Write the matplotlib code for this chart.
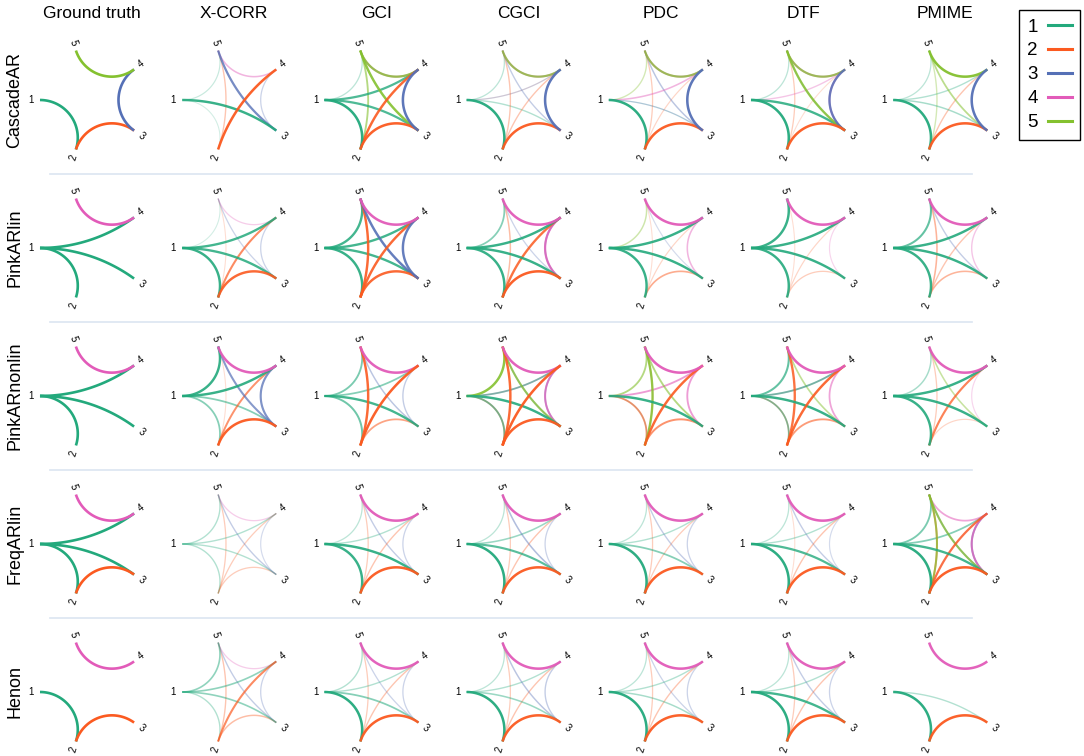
import numpy as np
import matplotlib.pyplot as plt
from matplotlib.lines import Line2D

plt.rcParams['font.family'] = ['Liberation Sans', 'DejaVu Sans']

METHODS = ['Ground truth', 'X-CORR', 'GCI', 'CGCI', 'PDC', 'DTF', 'PMIME']
DATASETS = ['CascadeAR', 'PinkARlin', 'PinkARnonlin', 'FreqARlin', 'Henon']
NODES = ['1', '2', '3', '4', '5']
NODE_COLORS = ['#23a97c', '#fb5a20', '#5570b6', '#e25bb9', '#84c12f']

# directed edges per panel: (source, target, strength)
CASCADE_AR = {
    'Ground truth': [(1, 2, 1.0), (2, 3, 1.0), (3, 4, 1.0), (5, 4, 1.0)],
    'X-CORR': [(1, 5, .25), (1, 2, .2), (1, 3, .9), (2, 5, .35), (4, 5, .45),
               (3, 5, .8), (2, 4, .95), (3, 4, .3)],
    'GCI': [(1, 5, .3), (1, 2, .95), (1, 4, .8), (1, 3, .8), (4, 5, .6), (5, 4, .8),
            (5, 3, .9), (5, 2, .6), (2, 3, .95), (2, 4, .9), (3, 4, .95)],
    'CGCI': [(1, 5, .3), (1, 2, .95), (1, 4, .25), (4, 1, .25), (1, 3, .35),
             (4, 5, .6), (5, 4, .75), (2, 5, .35), (3, 5, .35), (2, 3, .95),
             (2, 4, .35), (3, 4, .95)],
    'PDC': [(5, 1, .35), (1, 2, .95), (4, 1, .45), (3, 1, .3), (1, 3, .2), (4, 5, .6),
            (5, 4, .75), (2, 5, .3), (3, 5, .4), (2, 3, .95), (2, 4, .25), (3, 4, .95)],
    'DTF': [(1, 5, .3), (4, 1, .35), (1, 2, .95), (1, 3, .85), (4, 5, .6), (5, 4, .75),
            (3, 5, .3), (5, 3, .85), (2, 5, .3), (2, 4, .2), (2, 3, .95), (4, 3, .6),
            (3, 4, .85)],
    'PMIME': [(1, 5, .3), (1, 4, .35), (1, 2, .95), (1, 3, .4), (4, 5, .2), (5, 4, .95),
              (5, 2, .35), (5, 3, .55), (2, 4, .35), (2, 3, .95), (3, 4, .95)],
}

PINK_AR_LIN = {
    'Ground truth': [(1, 2, 1.0), (1, 3, 1.0), (1, 4, 1.0), (4, 5, 1.0)],
    'X-CORR': [(1, 5, .2), (1, 4, .85), (1, 2, .9), (1, 3, .85), (4, 5, .3),
               (2, 5, .2), (3, 5, .3), (2, 4, .7), (2, 3, .9), (3, 4, .3)],
    'GCI': [(1, 5, .85), (1, 4, .85), (1, 2, .9), (1, 3, .85), (4, 5, .95),
            (2, 5, .9), (3, 5, .9), (2, 4, .9), (2, 3, .9), (3, 4, .9)],
    'CGCI': [(1, 5, .55), (1, 4, .9), (1, 2, .9), (1, 3, .9), (4, 5, .95), (2, 5, .4),
             (3, 5, .3), (2, 4, .85), (2, 3, .95), (3, 4, .5), (4, 3, .8)],
    'PDC': [(5, 1, .4), (1, 4, .9), (1, 2, .9), (1, 3, .9), (4, 5, .95), (2, 5, .2),
            (3, 5, .25), (2, 4, .25), (2, 3, .5), (4, 3, .45)],
    'DTF': [(1, 5, .9), (1, 4, .9), (1, 2, .9), (1, 3, .9), (4, 5, .95), (2, 5, .2),
            (2, 4, .25), (2, 3, .3), (4, 3, .25)],
    'PMIME': [(1, 5, .7), (1, 4, .9), (1, 2, .9), (1, 3, .9), (4, 5, .95), (2, 5, .45),
              (3, 5, .35), (2, 4, .35), (2, 3, .45), (4, 3, .35)],
}

PINK_AR_NONLIN = {
    'Ground truth': [(1, 2, 1.0), (1, 3, 1.0), (1, 4, 1.0), (4, 5, 1.0)],
    'X-CORR': [(1, 5, .9), (1, 4, .9), (1, 2, .55), (1, 3, .55), (4, 5, .95),
               (2, 5, .2), (3, 5, .7), (2, 4, .65), (2, 3, .95), (3, 4, .75)],
    'GCI': [(1, 5, .6), (1, 4, .55), (1, 2, .65), (1, 3, .85), (4, 5, .95),
            (2, 5, .9), (3, 5, .4), (2, 4, .95), (2, 3, .55), (3, 4, .35)],
    'CGCI': [(5, 1, .9), (4, 1, .45), (1, 4, .55), (2, 1, .5), (1, 2, .6), (1, 3, .9),
             (4, 5, .95), (2, 5, .9), (3, 5, .4), (5, 3, .75), (2, 4, .95),
             (2, 3, .95), (3, 4, .5), (4, 3, .7)],
    'PDC': [(5, 1, .6), (4, 1, .6), (1, 2, .3), (2, 1, .6), (1, 3, .9), (4, 5, .95),
            (2, 5, .35), (5, 2, .85), (5, 3, .6), (2, 4, .9), (2, 3, .65), (4, 3, .6)],
    'DTF': [(1, 5, .7), (4, 1, .4), (1, 4, .6), (2, 1, .45), (1, 2, .55), (1, 3, .9),
            (4, 5, .95), (2, 5, .85), (5, 3, .5), (2, 4, .9), (2, 3, .6), (4, 3, .55)],
    'PMIME': [(1, 5, .4), (1, 4, .9), (1, 2, .9), (1, 3, .9), (4, 5, .95), (2, 5, .3),
              (5, 3, .45), (2, 4, .75), (2, 3, .25), (4, 3, .25)],
}

FREQ_AR_LIN = {
    'Ground truth': [(1, 4, 1.0), (1, 3, 1.0), (1, 2, 1.0), (2, 3, 1.0), (4, 5, 1.0)],
    'X-CORR': [(1, 5, .35), (1, 4, .35), (1, 2, .35), (1, 3, .35), (4, 5, .3),
               (2, 5, .3), (3, 5, .35), (2, 4, .3), (2, 3, .3), (3, 4, .25)],
    'GCI': [(1, 5, .3), (1, 4, .35), (1, 2, .9), (1, 3, .9), (4, 5, .95), (2, 5, .3),
            (3, 5, .35), (2, 4, .35), (2, 3, .95), (3, 4, .3)],
    'CGCI': [(1, 5, .3), (1, 4, .45), (1, 2, .95), (1, 3, .75), (4, 5, .95), (2, 5, .3),
             (3, 5, .45), (2, 4, .35), (2, 3, .95), (3, 4, .3)],
    'PDC': [(1, 5, .3), (1, 4, .35), (1, 2, .95), (1, 3, .55), (4, 5, .95), (2, 5, .3),
            (3, 5, .35), (2, 4, .3), (2, 3, .95), (3, 4, .3)],
    'DTF': [(1, 5, .3), (1, 4, .35), (1, 2, .95), (1, 3, .8), (4, 5, .95), (2, 5, .2),
            (3, 5, .35), (2, 4, .35), (2, 3, .95), (3, 4, .25)],
    'PMIME': [(1, 5, .6), (1, 4, .55), (1, 2, .95), (1, 3, .85), (4, 5, .55),
              (2, 5, .6), (5, 2, .7), (3, 5, .45), (5, 3, .75), (4, 2, .35),
              (2, 4, .8), (2, 3, .95), (3, 4, .6), (4, 3, .7)],
}

HENON = {
    'Ground truth': [(1, 2, 1.0), (2, 3, 1.0), (4, 5, 1.0)],
    'X-CORR': [(1, 5, .5), (1, 4, .5), (1, 2, .35), (1, 3, .5), (4, 5, .3), (2, 5, .35),
               (3, 5, .35), (2, 4, .7), (2, 3, .4), (3, 4, .3)],
    'GCI': [(1, 5, .35), (1, 4, .35), (1, 2, .95), (1, 3, .55), (4, 5, .95), (2, 5, .3),
            (3, 5, .3), (2, 4, .35), (2, 3, .95), (3, 4, .3)],
    'CGCI': [(1, 5, .3), (1, 4, .35), (1, 2, .95), (1, 3, .45), (4, 5, .95), (2, 5, .3),
             (3, 5, .4), (2, 4, .35), (2, 3, .95), (3, 4, .35)],
    'PDC': [(1, 5, .3), (1, 4, .35), (1, 2, .95), (1, 3, .4), (4, 5, .95), (2, 5, .3),
            (3, 5, .3), (2, 4, .35), (2, 3, .95), (3, 4, .3)],
    'DTF': [(1, 5, .3), (1, 4, .35), (1, 2, .95), (1, 3, .85), (4, 5, .95), (2, 5, .3),
            (3, 5, .35), (2, 4, .35), (2, 3, .95), (3, 4, .3)],
    'PMIME': [(1, 2, .95), (1, 3, .35), (2, 3, .95), (4, 5, .95)],
}

PANELS = [CASCADE_AR, PINK_AR_LIN, PINK_AR_NONLIN, FREQ_AR_LIN, HENON]

W, H = 1084, 756
COL_X0, COL_DX = 92, 142.2
ROW_Y0, ROW_DY = 100, 148
PANEL_PX = 140
LIM = 1.346

angles = np.deg2rad(180 + 72 * np.arange(len(NODES)))
node_xy = np.column_stack([np.cos(angles), np.sin(angles)])
t = np.linspace(0, 1, 90)


def arc_points(a0, a1):
    # circle arc orthogonal to the unit circle, joining the two nodes
    d = (a1 - a0 + np.pi) % (2 * np.pi) - np.pi
    mid = a0 + d / 2
    half = abs(d) / 2
    centre = np.array([np.cos(mid), np.sin(mid)]) / np.cos(half)
    p0 = np.array([np.cos(a0), np.sin(a0)])
    p1 = np.array([np.cos(a1), np.sin(a1)])
    th0 = np.arctan2(*(p0 - centre)[::-1])
    th1 = np.arctan2(*(p1 - centre)[::-1])
    dth = (th1 - th0 + np.pi) % (2 * np.pi) - np.pi
    th = th0 + dth * t
    r = np.tan(half)
    return centre[0] + r * np.cos(th), centre[1] + r * np.sin(th)


def label_rotation(ang):
    ang = ang % 360
    if 90 < ang < 270:
        return ang - 180
    return ang


def draw_panel(ax, edges):
    for src, dst, w in sorted(edges, key=lambda e: e[2]):
        xs, ys = arc_points(angles[src - 1], angles[dst - 1])
        ax.plot(xs, ys, color=NODE_COLORS[src - 1], alpha=w,
                lw=0.5 + 1.4 * w, solid_capstyle='butt')
    for k, name in enumerate(NODES):
        ang = np.rad2deg(angles[k])
        ax.text(1.17 * node_xy[k, 0], 1.17 * node_xy[k, 1], name, fontsize=7,
                rotation=label_rotation(ang), ha='center', va='center', clip_on=False)
    ax.set_xlim(-LIM, LIM)
    ax.set_ylim(-LIM, LIM)
    ax.set_aspect('equal')
    ax.axis('off')


fig = plt.figure(figsize=(W / 100, H / 100), dpi=100)

for i, dataset in enumerate(PANELS):
    cy = ROW_Y0 + ROW_DY * i
    for j, method in enumerate(METHODS):
        cx = COL_X0 + COL_DX * j
        ax = fig.add_axes([(cx - PANEL_PX / 2) / W, 1 - (cy + PANEL_PX / 2) / H,
                           PANEL_PX / W, PANEL_PX / H])
        draw_panel(ax, dataset[method])
    fig.text(15 / W, 1 - cy / H, DATASETS[i], rotation=90, ha='center', va='center',
             fontsize=13)
    if i < len(PANELS) - 1:
        sy = 1 - (cy + ROW_DY / 2) / H
        fig.add_artist(Line2D([50 / W, 972 / W], [sy, sy], color='#dbe5f1', lw=1.2,
                              transform=fig.transFigure))

for j, method in enumerate(METHODS):
    fig.text((COL_X0 + COL_DX * j) / W, 1 - 13 / H, method, ha='center', va='center',
             fontsize=12.5)

handles = [Line2D([], [], color=c, lw=2.2) for c in NODE_COLORS]
leg = fig.legend(handles, NODES, loc='upper right', bbox_to_anchor=(1080 / W, 1 - 10 / H),
                 fontsize=13.5, markerfirst=False, fancybox=False, framealpha=1,
                 edgecolor='black', handlelength=1.25, handletextpad=0.55,
                 labelspacing=0.36, borderpad=0.45, borderaxespad=0)
leg.get_frame().set_linewidth(1.0)

fig.savefig('out.png', dpi=100)
